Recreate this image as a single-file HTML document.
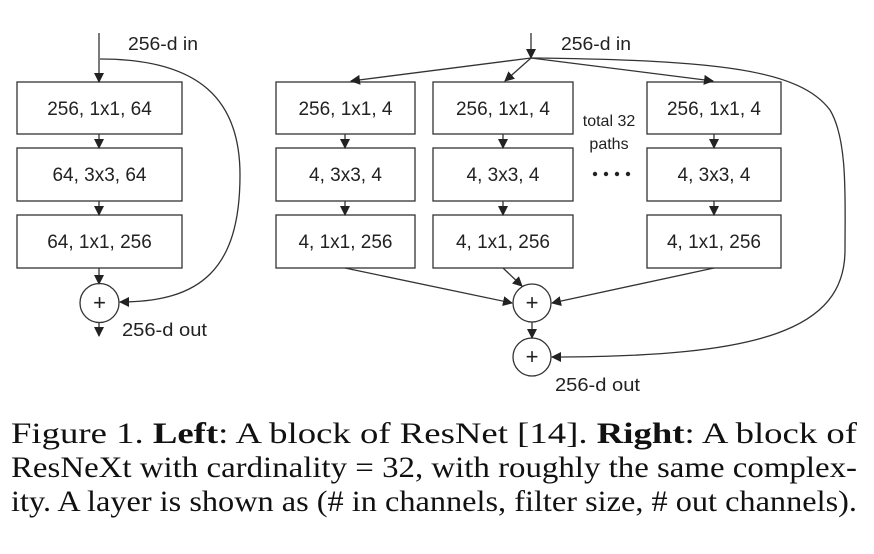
<!DOCTYPE html>
<html><head><meta charset="utf-8"><style>
html,body{margin:0;padding:0;background:#fff;}
svg{display:block;}
.s{font-family:"Liberation Sans",sans-serif;font-size:19px;fill:#222;}
.l{font-family:"Liberation Sans",sans-serif;font-size:18px;fill:#222;}
.c{font-family:"Liberation Serif","Times New Roman",serif;font-size:30px;fill:#111;}
</style></head><body>
<svg width="874" height="554" viewBox="0 0 874 554" xmlns="http://www.w3.org/2000/svg">
<defs>
<marker id="a" markerWidth="10" markerHeight="10" refX="9" refY="5" orient="auto" markerUnits="userSpaceOnUse">
<path d="M0,0 L10,5 L0,10 Z" fill="#222"/></marker>
</defs>
<g stroke="#333" stroke-width="1.3" fill="none">
<rect x="17" y="82" width="165" height="52"/>
<rect x="17" y="148" width="165" height="53"/>
<rect x="17" y="215" width="165" height="53"/>
<line x1="99" y1="33" x2="99" y2="82" marker-end="url(#a)"/>
<line x1="99" y1="134" x2="99" y2="148" marker-end="url(#a)"/>
<line x1="99" y1="201" x2="99" y2="215" marker-end="url(#a)"/>
<line x1="99" y1="268" x2="99" y2="284" marker-end="url(#a)"/>
<line x1="99" y1="322" x2="99" y2="336" marker-end="url(#a)"/>
<circle cx="99.5" cy="303" r="19.5"/>
<path d="M100,59 C200,59 240,100 240,175 C240,270 200,302 120,302" marker-end="url(#a)"/>
<rect x="276" y="82" width="139" height="52"/>
<rect x="276" y="148" width="139" height="53"/>
<rect x="276" y="215" width="139" height="53"/>
<rect x="433" y="82" width="140" height="52"/>
<rect x="433" y="148" width="140" height="53"/>
<rect x="433" y="215" width="140" height="53"/>
<rect x="647" y="82" width="134" height="52"/>
<rect x="647" y="148" width="134" height="53"/>
<rect x="647" y="215" width="134" height="53"/>
<line x1="531" y1="33" x2="531" y2="58" marker-end="url(#a)"/>
<line x1="531" y1="58" x2="351" y2="81" marker-end="url(#a)"/>
<line x1="531" y1="58" x2="505" y2="81" marker-end="url(#a)"/>
<line x1="531" y1="58" x2="713" y2="81" marker-end="url(#a)"/>
<line x1="345" y1="134" x2="345" y2="148" marker-end="url(#a)"/>
<line x1="345" y1="201" x2="345" y2="215" marker-end="url(#a)"/>
<line x1="503" y1="134" x2="503" y2="148" marker-end="url(#a)"/>
<line x1="503" y1="201" x2="503" y2="215" marker-end="url(#a)"/>
<line x1="714" y1="134" x2="714" y2="148" marker-end="url(#a)"/>
<line x1="714" y1="201" x2="714" y2="215" marker-end="url(#a)"/>
<line x1="345" y1="268" x2="512" y2="303" marker-end="url(#a)"/>
<line x1="503" y1="268" x2="522" y2="286" marker-end="url(#a)"/>
<line x1="714" y1="268" x2="552" y2="303" marker-end="url(#a)"/>
<circle cx="532" cy="303" r="19"/>
<circle cx="532" cy="357" r="19"/>
<line x1="532" y1="322" x2="532" y2="338" marker-end="url(#a)"/>
<path d="M531,58 C720,60 800,70 830,110 C848,140 845,200 845,250 C845,330 760,357 552,357" marker-end="url(#a)"/>
</g>
<g fill="#222">
<circle cx="595" cy="174" r="2.2"/><circle cx="606" cy="174" r="2.2"/><circle cx="617" cy="174" r="2.2"/><circle cx="628" cy="174" r="2.2"/>
</g>
<g class="s" text-anchor="middle">
<text x="99.5" y="115">256, 1x1, 64</text>
<text x="99.5" y="181">64, 3x3, 64</text>
<text x="99.5" y="248">64, 1x1, 256</text>
<text x="345.5" y="115">256, 1x1, 4</text>
<text x="345.5" y="181">4, 3x3, 4</text>
<text x="345.5" y="248">4, 1x1, 256</text>
<text x="503" y="115">256, 1x1, 4</text>
<text x="503" y="181">4, 3x3, 4</text>
<text x="503" y="248">4, 1x1, 256</text>
<text x="714" y="115">256, 1x1, 4</text>
<text x="714" y="181">4, 3x3, 4</text>
<text x="714" y="248">4, 1x1, 256</text>
<text x="609" y="126" style="font-size:16px">total 32</text>
<text x="609" y="149" style="font-size:16px">paths</text>
<text x="532" y="310" style="font-size:22px">+</text>
<text x="532" y="364" style="font-size:22px">+</text>
<text x="99.5" y="310" style="font-size:22px">+</text>
</g>
<g class="l">
<text x="128" y="50" textLength="70" lengthAdjust="spacingAndGlyphs">256-d in</text>
<text x="122" y="336" textLength="85" lengthAdjust="spacingAndGlyphs">256-d out</text>
<text x="561" y="50" textLength="70" lengthAdjust="spacingAndGlyphs">256-d in</text>
<text x="555" y="391" textLength="85" lengthAdjust="spacingAndGlyphs">256-d out</text>
</g>
<text class="c" x="11" y="443" textLength="846" lengthAdjust="spacingAndGlyphs">Figure 1. <tspan font-weight="bold">Left</tspan>:  A block of ResNet [14].   <tspan font-weight="bold">Right</tspan>:  A block of</text>
<text class="c" x="11" y="477" textLength="846" lengthAdjust="spacingAndGlyphs">ResNeXt with cardinality = 32, with roughly the same complex-</text>
<text class="c" x="11" y="511" textLength="846" lengthAdjust="spacingAndGlyphs">ity. A layer is shown as (# in channels, filter size, # out channels).</text>
</svg>
</body></html>
